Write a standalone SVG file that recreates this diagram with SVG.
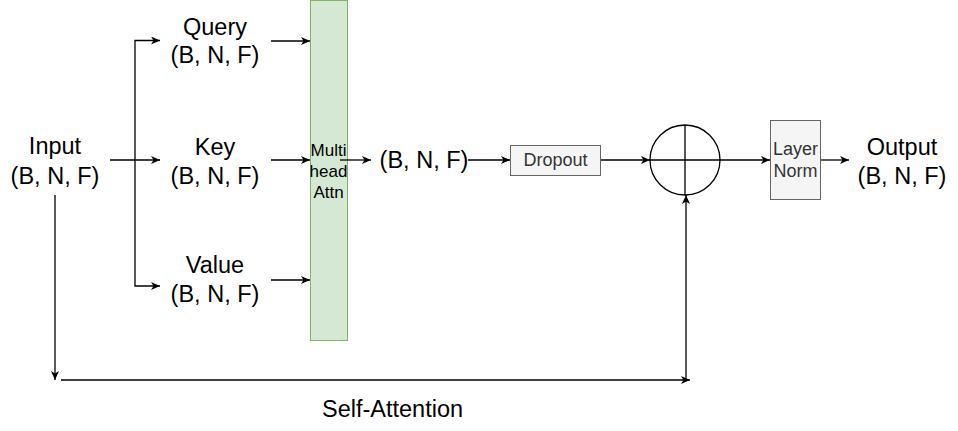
<svg xmlns="http://www.w3.org/2000/svg" width="958" height="431" viewBox="0 0 958 431">
<style>
.big{font-family:"Liberation Sans",Arial,sans-serif;font-size:23.5px;fill:#000;text-anchor:middle}
.small{font-family:"Liberation Sans",Arial,sans-serif;font-size:18px;text-anchor:middle}
.mh{font-family:"Liberation Sans",Arial,sans-serif;font-size:17px;text-anchor:middle;fill:#000}
.edge{fill:none;stroke:#000;stroke-width:1.3}
.arr{marker-end:url(#ah)}
</style>
<defs>
<marker id="ah" markerUnits="userSpaceOnUse" markerWidth="12" markerHeight="10" refX="9" refY="4" orient="auto">
<path d="M0,0 L9,4 L0,8 L2.5,4 z" fill="#000"/>
</marker>
</defs>
<rect width="958" height="431" fill="#fff"/>
<g id="mha">
<rect x="310.5" y="0.5" width="37" height="340" fill="#d5e8d4" stroke="#82b366" stroke-width="1"/>
<text class="mh" x="328.5" y="156">Multi</text>
<text class="mh" x="328.5" y="177">head</text>
<text class="mh" x="328.5" y="198">Attn</text>
</g>
<g id="edges">
<path class="edge arr" d="M110,160 H160"/>
<path class="edge arr" d="M135,160 V40.5 H160"/>
<path class="edge arr" d="M135,160 V286 H160"/>
<path class="edge arr" d="M271,41 H310"/>
<path class="edge arr" d="M271,160 H310"/>
<path class="edge arr" d="M271,280 H310"/>
<path class="edge arr" d="M340,160 H371"/>
<path class="edge arr" d="M468,160 H510"/>
<path class="edge arr" d="M601,160 H650"/>
<path class="edge arr" d="M720,160 H770"/>
<path class="edge arr" d="M821,160 H849"/>
<path class="edge arr" d="M55,195 V380"/>
<path class="edge arr" d="M61,380 H690"/>
<path class="edge arr" d="M686,380 V195"/>
</g>
<g id="input">
<text class="big" x="55" y="154">Input</text>
<text class="big" x="55" y="184">(B, N, F)</text>
</g>
<g id="query">
<text class="big" x="215" y="35">Query</text>
<text class="big" x="215" y="63">(B, N, F)</text>
</g>
<g id="key">
<text class="big" x="215" y="155">Key</text>
<text class="big" x="215" y="184">(B, N, F)</text>
</g>
<g id="value">
<text class="big" x="215" y="273">Value</text>
<text class="big" x="215" y="302">(B, N, F)</text>
</g>
<g id="attn-out">
<text class="big" x="424" y="168">(B, N, F)</text>
</g>
<g id="dropout">
<rect x="510.5" y="145.5" width="90" height="30" fill="#f5f5f5" stroke="#666666"/>
<text class="small" fill="#333333" x="555.5" y="166">Dropout</text>
</g>
<g id="add">
<circle cx="685" cy="160" r="35" fill="none" stroke="#000" stroke-width="1.3"/>
<path class="edge" d="M650,160 H720 M685,125 V195"/>
</g>
<g id="layernorm">
<rect x="770.5" y="120.5" width="50" height="79" fill="#f5f5f5" stroke="#666666"/>
<text class="small" fill="#333333" x="795.5" y="155">Layer</text>
<text class="small" fill="#333333" x="795.5" y="177">Norm</text>
</g>
<g id="output">
<text class="big" x="902" y="155">Output</text>
<text class="big" x="902" y="184">(B, N, F)</text>
</g>
<g id="label">
<text class="big" x="392.5" y="417">Self-Attention</text>
</g>
</svg>
